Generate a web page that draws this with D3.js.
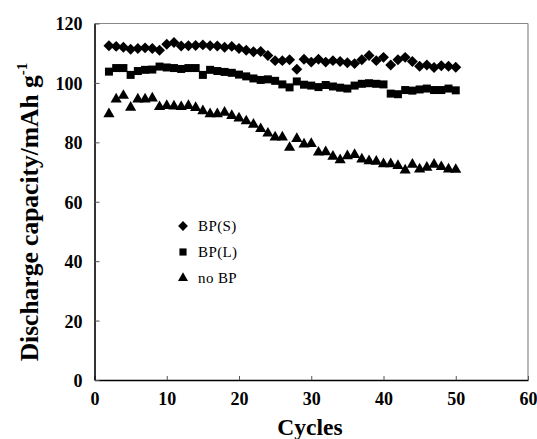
<!DOCTYPE html>
<html>
<head>
<meta charset="utf-8">
<script src="https://cdn.jsdelivr.net/npm/d3@7"></script>
<style>
  body { margin: 0; background: #fff; }
  text { font-family: "Liberation Serif", "Times New Roman", serif; }
</style>
</head>
<body>
<div class="canvas"></div>
<script>
// Data
const cycles = d3.range(2, 51);

const bpS = [112.5, 112.3, 112, 111.3, 111.6, 111.8, 111.6, 111, 113, 113.6, 112.4, 112.5, 112.6,
  112.8, 112.5, 112.4, 112, 112.3, 111.6, 111, 110.5, 110.6, 109.2, 107.5, 107.5, 107.8, 104.6,
  108, 107, 108, 107, 107.5, 107.2, 106.8, 106.5, 107.8, 109.2, 107.5, 108.6, 106,
  107.8, 108.6, 107.2, 105.6, 106, 105.2, 105.8, 105.6, 105.3];

const bpL = [103.8, 105, 105, 102.7, 104, 104.4, 104.5, 105.5, 105.2, 105, 104.7, 105, 105,
  102.7, 104.4, 104, 103.7, 103.4, 102.8, 102.2, 101.5, 101, 101.2, 100.7, 99.5, 98.5,
  100.5, 99.4, 99.1, 98.6, 99.3, 98.8, 98.4, 98.1, 99.1, 99.7, 99.9, 99.7, 99.5,
  96.4, 96.2, 97.6, 97.4, 97.8, 98.1, 97.6, 97.6, 98.1, 97.5];

const noBP = [89.8, 94.8, 96, 92, 94.8, 94.8, 95.1, 92.2, 92.6, 92.4, 92.2, 92.6, 91.9,
  90.8, 89.8, 89.8, 90.3, 89.2, 88.4, 87.4, 86.3, 84.8, 83.3, 82, 82, 78.5, 81.5, 79.6,
  79.8, 76.9, 77, 75.5, 74.3, 75.7, 76.1, 74.6, 74, 73.8, 73, 73, 72.4, 70.9, 72.8,
  71.2, 71.8, 72.8, 72, 71.2, 71.1];

const xTicks = [0, 10, 20, 30, 40, 50, 60];
const yTicks = [0, 20, 40, 60, 80, 100, 120];
const seriesNames = ['BP(S)', 'BP(L)', 'no BP'];

// Graph set up
const svgWidth = 537;
const svgHeight = 439;
const margin = {top: 23.5, right: 9, bottom: 59, left: 94.5};
const graphWidth = svgWidth - margin.left - margin.right;
const graphHeight = svgHeight - margin.top - margin.bottom;

const svg = d3.select('.canvas')
  .append('svg')
  .attr('width', svgWidth)
  .attr('height', svgHeight);

const graph = svg.append('g')
  .attr('transform', `translate(${margin.left},${margin.top})`);

// Scales
const x = d3.scaleLinear().domain([0, 60]).range([0, graphWidth]);
const y = d3.scaleLinear().domain([0, 120]).range([graphHeight, 0]);

// frame: top and right are grey
graph.append('line')
  .attr('x1', 0).attr('x2', graphWidth).attr('y1', 0).attr('y2', 0)
  .attr('stroke', '#888').attr('stroke-width', 1.2);
graph.append('line')
  .attr('x1', graphWidth).attr('x2', graphWidth).attr('y1', 0).attr('y2', graphHeight)
  .attr('stroke', '#888').attr('stroke-width', 1.2);

// Axes
const xAxis = d3.axisBottom(x).tickValues(xTicks).tickSizeInner(-4).tickSizeOuter(0).tickPadding(12);
const yAxis = d3.axisLeft(y).tickValues(yTicks).tickSizeInner(-5).tickSizeOuter(0).tickPadding(12);

const xAxisGroup = graph.append('g')
  .attr('transform', `translate(0,${graphHeight})`)
  .call(xAxis);
const yAxisGroup = graph.append('g').call(yAxis);

[xAxisGroup, yAxisGroup].forEach(g => {
  g.attr('font-family', null);
  g.select('.domain').attr('stroke', '#000').attr('stroke-width', 1.6);
  g.selectAll('.tick line').attr('stroke', '#555').attr('stroke-width', 1);
  g.selectAll('.tick text')
    .attr('fill', '#000')
    .style('font-family', '"Liberation Serif", serif')
    .style('font-weight', 'bold')
    .style('font-size', '18px');
});
yAxisGroup.selectAll('.tick text').attr('dy', '0.36em');
xAxisGroup.selectAll('.tick text').attr('dy', '0.72em');

// Axis titles
svg.append('text')
  .attr('x', 310)
  .attr('y', 435)
  .attr('text-anchor', 'middle')
  .style('font-weight', 'bold')
  .style('font-size', '23.5px')
  .text('Cycles');

const yTitle = svg.append('text')
  .attr('transform', 'translate(38,212) rotate(-90)')
  .attr('text-anchor', 'middle')
  .style('font-weight', 'bold')
  .style('font-size', '25.5px');
yTitle.append('tspan').text('Discharge capacity/mAh g');
yTitle.append('tspan').attr('dy', -11).style('font-size', '15px').text('-1');

// Markers: square-ish diamond, square, triangle
const diamond = {
  draw(context, size) {
    const r = Math.sqrt(size / 2);
    context.moveTo(0, -r);
    context.lineTo(r, 0);
    context.lineTo(0, r);
    context.lineTo(-r, 0);
    context.closePath();
  }
};
const symbols = [diamond, d3.symbolSquare, d3.symbolTriangle];
const sizes = [60, 64, 54];
const seriesValues = [bpS, bpL, noBP];

seriesValues.forEach((vals, s) => {
  const sym = d3.symbol().type(symbols[s]).size(sizes[s]);
  graph.append('g')
    .selectAll('path')
    .data(vals)
    .enter()
    .append('path')
      .attr('d', sym)
      .attr('transform', (d, i) => {
        const ty = s === 2 ? y(d) + 0.8 : y(d);
        return `translate(${x(cycles[i])},${ty})`;
      })
      .attr('fill', '#000');
});

// Legend
const legend = svg.append('g').attr('transform', 'translate(183,226)');
seriesNames.forEach((name, s) => {
  const row = legend.append('g').attr('transform', `translate(0,${s * 26})`);
  row.append('path')
    .attr('d', d3.symbol().type(symbols[s]).size(sizes[s] * 0.8)())
    .attr('fill', '#000');
  row.append('text')
    .attr('x', 15)
    .attr('y', 0)
    .attr('dy', '0.32em')
    .style('font-family', '"Liberation Serif", serif')
    .style('font-size', '15px')
    .style('letter-spacing', '0.4px')
    .text(name);
});
</script>
</body>
</html>
